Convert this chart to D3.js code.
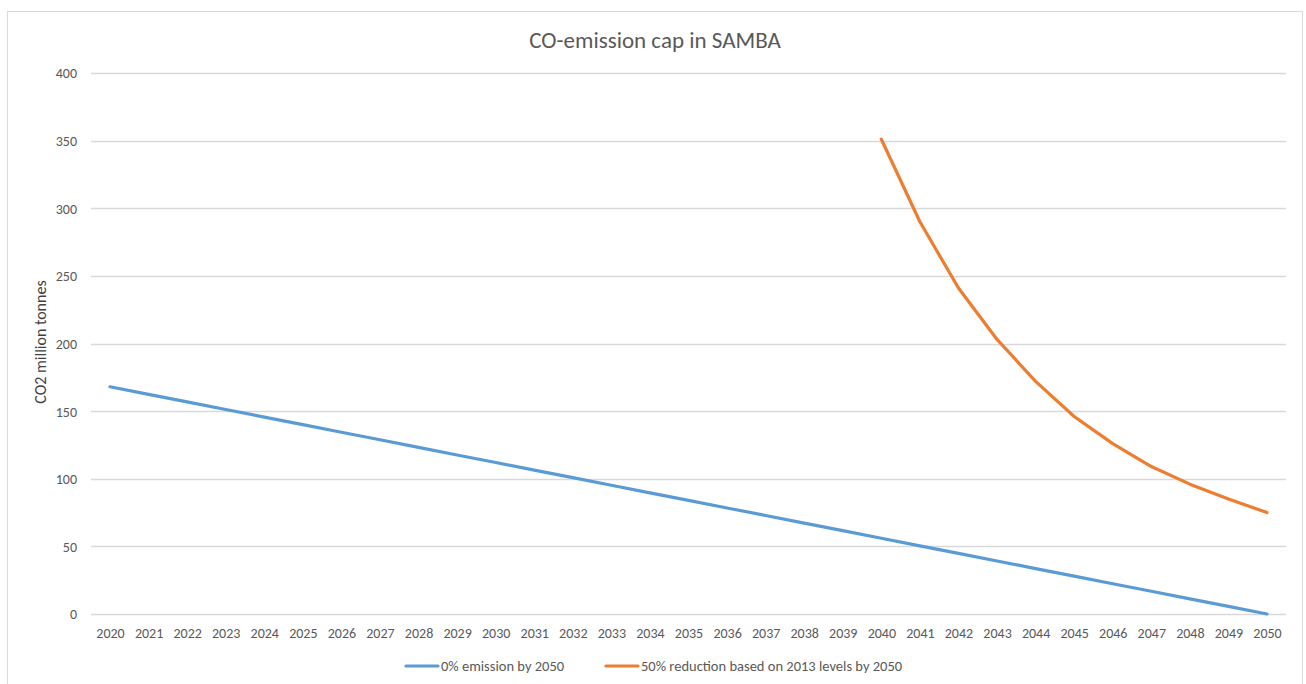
<!DOCTYPE html>
<html>
<head>
<meta charset="utf-8">
<script src="https://cdn.jsdelivr.net/npm/d3@7"></script>
<style>
  body { margin: 0; background: #fff; }
  text { font-family: Carlito, Lato, "Open Sans", sans-serif; fill: #595959; }
</style>
</head>
<body>
<svg id="chart" width="1306" height="684"></svg>
<script>
// years on the x axis
var years = ['2020','2021','2022','2023','2024','2025','2026','2027','2028','2029','2030',
  '2031','2032','2033','2034','2035','2036','2037','2038','2039','2040',
  '2041','2042','2043','2044','2045','2046','2047','2048','2049','2050'];

// 0% emission by 2050
var zeroEmission = [168, 162.4, 156.8, 151.2, 145.6, 140, 134.4, 128.8, 123.2, 117.6, 112,
  106.4, 100.8, 95.2, 89.6, 84, 78.4, 72.8, 67.2, 61.6, 56,
  50.4, 44.8, 39.2, 33.6, 28, 22.4, 16.8, 11.2, 5.6, 0];

// 50% reduction, only from 2040 on
var halfYears = ['2040','2041','2042','2043','2044','2045','2046','2047','2048','2049','2050'];
var halfReduction = [351, 290, 241, 203, 172, 146, 126, 109, 96, 85, 75];

var yTicks = [0, 50, 100, 150, 200, 250, 300, 350, 400];

var seriesNames = ['0% emission by 2050', '50% reduction based on 2013 levels by 2050'];
var seriesColors = ['#5b9bd5', '#ed7d31'];

var svg = d3.select('#chart');

// outer frame
svg.append('rect')
  .attr('x', 7.5).attr('y', 11.5)
  .attr('width', 1295).attr('height', 690)
  .style('fill', 'none')
  .style('stroke', '#d9d9d9');

var x = d3.scalePoint().domain(years).range([110, 1267]);
var y = d3.scaleLinear().domain([0, 400]).range([614, 73]);

// gridlines
svg.append('g').selectAll('line')
  .data(yTicks)
  .enter().append('line')
  .attr('x1', 91).attr('x2', 1286)
  .attr('y1', function(d) { return Math.round(y(d)) + 0.5; })
  .attr('y2', function(d) { return Math.round(y(d)) + 0.5; })
  .style('stroke', '#d9d9d9')
  .style('stroke-width', 1.3);

// y tick labels
var yAxis = d3.axisLeft(y).tickValues(yTicks).tickSize(0).tickPadding(0);
var gy = svg.append('g').attr('transform', 'translate(77,0)').call(yAxis);
gy.select('.domain').remove();
gy.selectAll('text').style('font-size', '14px').attr('dy', '0.35em');

// x tick labels
var xAxis = d3.axisBottom(x).tickSize(0).tickPadding(0);
var gx = svg.append('g').attr('transform', 'translate(0,628)').call(xAxis);
gx.select('.domain').remove();
gx.selectAll('text').style('font-size', '14px').attr('dy', '0.71em');

var line = d3.line()
  .x(function(d) { return x(d[0]); })
  .y(function(d) { return y(d[1]); });

svg.append('path')
  .datum(years.map(function(yr, i) { return [yr, zeroEmission[i]]; }))
  .attr('d', line)
  .style('fill', 'none')
  .style('stroke', seriesColors[0])
  .style('stroke-width', 3.2)
  .style('stroke-linecap', 'round');

svg.append('path')
  .datum(halfYears.map(function(yr, i) { return [yr, halfReduction[i]]; }))
  .attr('d', line)
  .style('fill', 'none')
  .style('stroke', seriesColors[1])
  .style('stroke-width', 3.2)
  .style('stroke-linecap', 'round')
  .style('stroke-linejoin', 'round');

// title
svg.append('text')
  .attr('x', 655).attr('y', 48)
  .attr('text-anchor', 'middle')
  .style('font-size', '23px')
  .text('CO-emission cap in SAMBA');

// y axis title
svg.append('text')
  .attr('transform', 'translate(46,342) rotate(-90)')
  .attr('text-anchor', 'middle')
  .style('font-size', '16px')
  .style('fill', '#404040')
  .text('CO2 million tonnes');

// legend
var legendX = [406, 606];
var lg = svg.append('g').selectAll('g')
  .data(seriesNames)
  .enter().append('g')
  .attr('transform', function(d, i) { return 'translate(' + legendX[i] + ',666)'; });
lg.append('line')
  .attr('x1', 0).attr('x2', 32)
  .attr('y1', 0).attr('y2', 0)
  .style('stroke', function(d, i) { return seriesColors[i]; })
  .style('stroke-width', 3.2)
  .style('stroke-linecap', 'round');
lg.append('text')
  .attr('x', 35).attr('y', 0).attr('dy', '0.35em')
  .style('font-size', '14.5px')
  .text(function(d) { return d; });
</script>
</body>
</html>
